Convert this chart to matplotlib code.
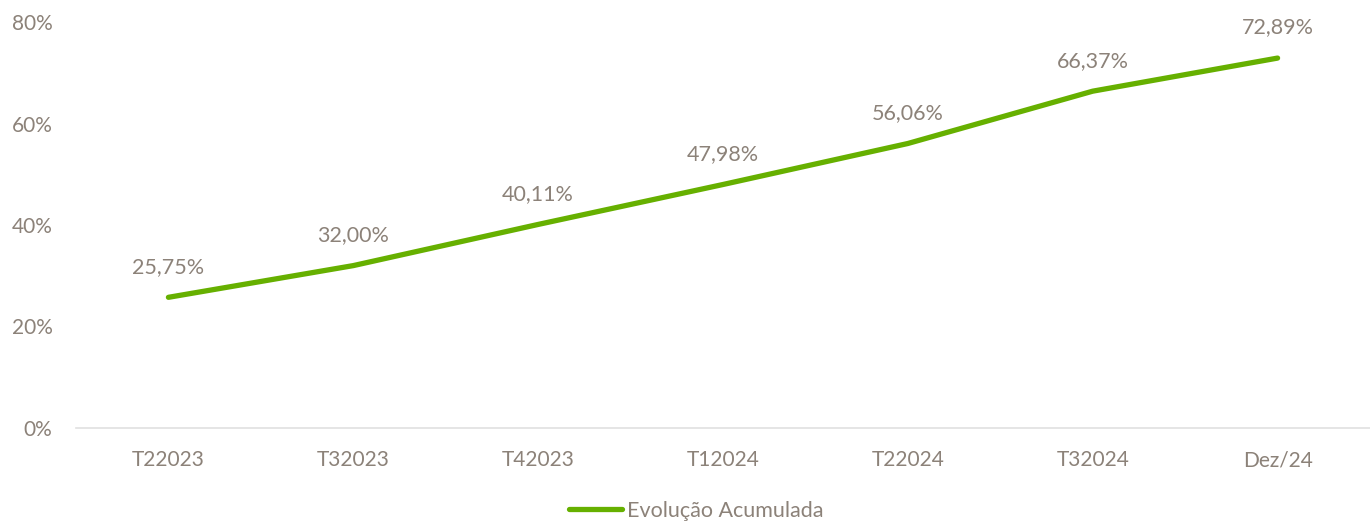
import matplotlib
matplotlib.use("Agg")
import matplotlib.pyplot as plt
from matplotlib.ticker import FuncFormatter

categories = ["T22023", "T32023", "T42023", "T12024", "T22024", "T32024", "Dez/24"]
values = [25.75, 32.00, 40.11, 47.98, 56.06, 66.37, 72.89]
yticks = [0, 20, 40, 60, 80]

plt.rcParams['font.family'] = ['Lato', 'DejaVu Sans']
txt = '#8C8279'
green = '#66B000'

fig = plt.figure(figsize=(13.7, 5.22), dpi=100)
ax = fig.add_axes([76/1370, 1-428/522, 1-76/1370, (428-22)/522])
x = list(range(len(categories)))
ax.plot(x, values, color=green, lw=3.8, solid_capstyle='round', solid_joinstyle='round',
        label='Evolução Acumulada')
for xi, v in zip(x, values):
    ax.annotate(f"{v:.2f}%".replace('.', ','), (xi, v), xytext=(0, 22), textcoords='offset points',
                ha='center', va='center', color=txt, fontsize=15.5)
ax.set_xlim(-0.5, len(categories)-0.5)
ax.set_ylim(0, 80)
ax.set_yticks(yticks)
ax.yaxis.set_major_formatter(FuncFormatter(lambda v, p: f"{v:.0f}%"))
ax.set_xticks(x)
ax.set_xticklabels(categories)
for s in ['top', 'right', 'left']:
    ax.spines[s].set_visible(False)
ax.spines['bottom'].set_color('#E0E0E0')
ax.spines['bottom'].set_linewidth(1.2)
ax.tick_params(axis='both', length=0, colors=txt, labelsize=15)
ax.tick_params(axis='y', pad=17)
ax.tick_params(axis='x', pad=16)
leg = fig.legend(loc='center', bbox_to_anchor=(0.508, 1-511/522), frameon=False, fontsize=15.5,
                 handlelength=2.5, handletextpad=0.2, labelcolor=txt)
fig.savefig('out.png', dpi=100)
